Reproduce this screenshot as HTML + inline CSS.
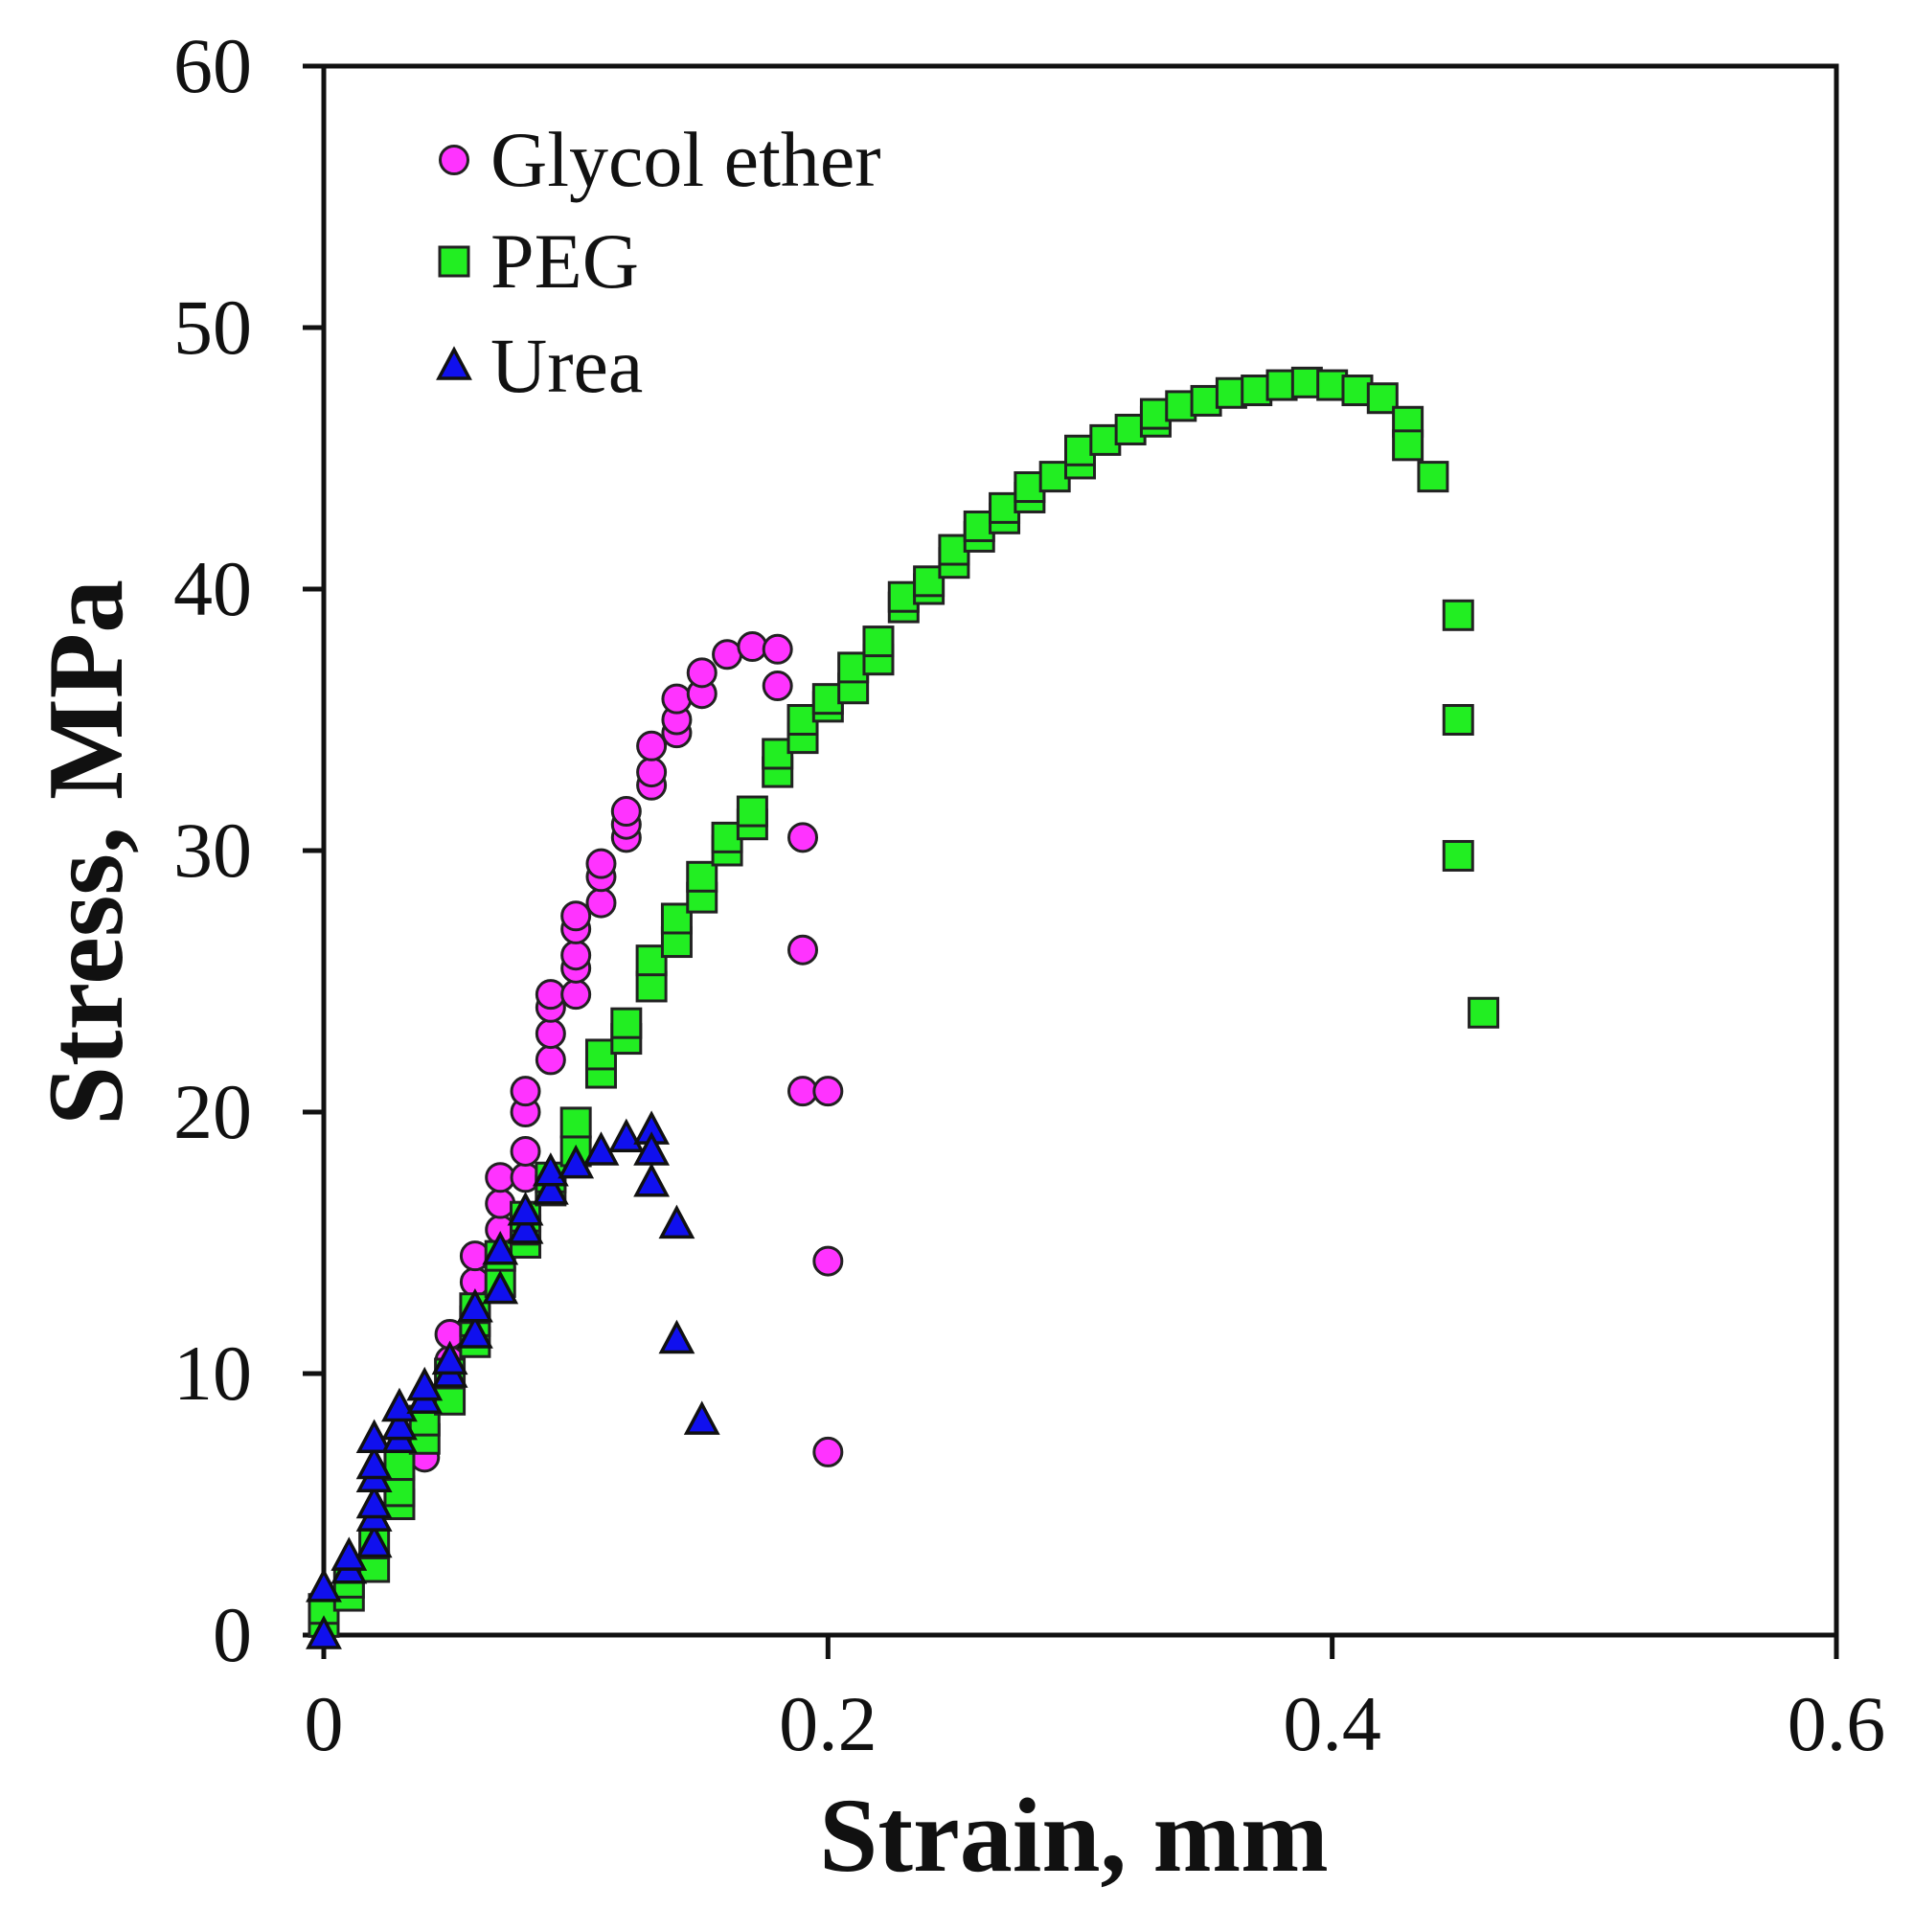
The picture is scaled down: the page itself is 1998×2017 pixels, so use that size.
<!DOCTYPE html>
<html><head><meta charset="utf-8"><style>
html,body{margin:0;padding:0;background:#fff;}
svg{display:block;}
text{font-family:"Liberation Serif",serif;fill:#111;}
</style></head><body>
<svg id="chart" width="1998" height="2017" viewBox="0 0 1998 2017" xmlns="http://www.w3.org/2000/svg"></svg>
<script>
const xTicks=[0,0.2,0.4,0.6];
const xTickLabels=["0","0.2","0.4","0.6"];
const yTicks=[0,10,20,30,40,50,60];
const yTickLabels=["0","10","20","30","40","50","60"];
const glycolX=[0,0.01,0.02,0.02,0.03,0.03,0.04,0.04,0.05,0.05,0.05,0.06,0.06,0.07,0.07,0.07,0.08,0.08,0.08,0.08,0.09,0.09,0.09,0.09,0.1,0.1,0.1,0.1,0.1,0.11,0.11,0.11,0.12,0.12,0.12,0.13,0.13,0.13,0.14,0.14,0.14,0.15,0.15,0.16,0.17,0.18,0.18,0.19,0.19,0.19,0.2,0.2,0.2];
const glycolY=[0.5,1.5,3,4,5,6,6.8,8,9.5,10.5,11.5,13.5,14.5,15.5,16.5,17.5,17.5,18.5,20,20.8,22,23,24,24.5,24.5,25.5,26,27,27.5,28,29,29.5,30.5,31,31.5,32.5,33,34,34.5,35,35.8,36,36.8,37.5,37.8,37.7,36.3,30.5,26.2,20.8,20.8,14.3,7];
const pegX=[0,0,0.01,0.01,0.02,0.02,0.03,0.03,0.03,0.04,0.04,0.05,0.05,0.06,0.06,0.06,0.07,0.07,0.08,0.08,0.08,0.09,0.09,0.1,0.1,0.11,0.11,0.12,0.12,0.13,0.13,0.14,0.14,0.15,0.15,0.16,0.16,0.17,0.17,0.18,0.18,0.19,0.19,0.2,0.2,0.21,0.21,0.22,0.22,0.23,0.23,0.24,0.24,0.25,0.25,0.26,0.26,0.27,0.27,0.28,0.28,0.29,0.3,0.3,0.31,0.32,0.33,0.33,0.34,0.35,0.36,0.37,0.38,0.39,0.4,0.41,0.42,0.43,0.43,0.44,0.45,0.45,0.45,0.46];
const pegY=[0.5,1,1.5,2,2.6,3.5,5,5.5,6.5,7.5,8.2,9,10,11.2,12,12.5,13.5,14.5,15,15.5,16,17,17.5,18.5,19.6,21.5,22.2,22.8,23.4,24.8,25.8,26.5,27.4,28.2,29,30,30.5,31,31.5,33,33.7,34.3,35,35.5,35.8,36.2,37,37.3,38,39.3,39.7,40,40.3,41,41.5,42,42.4,42.7,43.1,43.5,43.9,44.3,44.8,45.3,45.7,46.1,46.4,46.7,47,47.2,47.5,47.6,47.8,47.9,47.8,47.6,47.3,46.4,45.5,44.3,39,35,29.8,23.8];
const ureaX=[0,0,0.01,0.01,0.02,0.02,0.02,0.02,0.02,0.02,0.03,0.03,0.03,0.04,0.04,0.05,0.05,0.06,0.06,0.07,0.07,0.08,0.08,0.09,0.09,0.1,0.11,0.12,0.13,0.13,0.13,0.14,0.14,0.15];
const ureaY=[0,1.8,2.5,3,3.5,4.5,5,6,6.5,7.5,7.5,8,8.7,9,9.5,10,10.5,11.5,12.5,13.2,14.7,15.5,16.2,17,17.7,18,18.5,19,19.3,18.5,17.3,15.7,11.3,8.2];

const NS="http://www.w3.org/2000/svg";
const svg=document.getElementById('chart');
const X0=338,X1=1917,Y0=1707,Y1=69;
const sx=v=>X0+(v/0.6)*(X1-X0);
const sy=v=>Y0-(v/60)*(Y0-Y1);
function mk(tag,attrs,parent){const e=document.createElementNS(NS,tag);for(const k in attrs)e.setAttribute(k,attrs[k]);(parent||svg).appendChild(e);return e;}

const frame=mk('rect',{x:X0,y:Y1,width:X1-X0,height:Y0-Y1,fill:'none',stroke:'#111','stroke-width':5});



yTicks.forEach((v,i)=>{
  const t=mk('line',{x1:X0-22,x2:X0,y1:sy(v),y2:sy(v),stroke:'#111','stroke-width':5});
  
  
  const l=mk('text',{x:X0-75,y:sy(v)+27,'text-anchor':'end','font-size':82});
  l.textContent=yTickLabels[i];
  
  
});
xTicks.forEach((v,i)=>{
  const t=mk('line',{x1:sx(v),x2:sx(v),y1:Y0,y2:Y0+25,stroke:'#111','stroke-width':5});
  
  
  const l=mk('text',{x:sx(v),y:1827,'text-anchor':'middle','font-size':82});
  l.textContent=xTickLabels[i];
  
  
});

function circle(cx,cy,g){return mk('circle',{cx:cx,cy:cy,r:14.5,fill:'#ff33ff',stroke:'#222','stroke-width':3},g);}
function square(cx,cy,g){return mk('rect',{x:cx-15,y:cy-15,width:30,height:30,fill:'#22ee22',stroke:'#222','stroke-width':3},g);}
function tri(cx,cy,g){return mk('polygon',{points:`${cx},${cy-17} ${cx+16},${cy+13} ${cx-16},${cy+13}`,fill:'#1010ee',stroke:'#111','stroke-width':3.5},g);}

const gG=mk('g',{});


glycolX.forEach((x,i)=>{const e=circle(sx(x),sy(glycolY[i]),gG);
  
  });
const gP=mk('g',{});


pegX.forEach((x,i)=>{const e=square(sx(x),sy(pegY[i]),gP);
  
  });
const gU=mk('g',{});


ureaX.forEach((x,i)=>{const e=tri(sx(x),sy(ureaY[i]),gU);
  
  });

const lg=mk('g',{});


const names=["Glycol ether","PEG","Urea"];
const ly=[167,273,382];
[circle,square,tri].forEach((f,i)=>{
  const m=f(474,ly[i],lg);
  
  
  const t=mk('text',{x:512,y:ly[i]+27,'font-size':82},lg);
  t.textContent=names[i];
  
  
});

const xt=mk('text',{x:1121,y:1953,'text-anchor':'middle','font-size':110,'font-weight':'bold'});
xt.textContent='Strain, mm';


const yt=mk('text',{x:0,y:0,'text-anchor':'middle','font-size':112,'font-weight':'bold',transform:'translate(127,890) rotate(-90)'});
yt.textContent='Stress, MPa';


</script>
</body></html>
